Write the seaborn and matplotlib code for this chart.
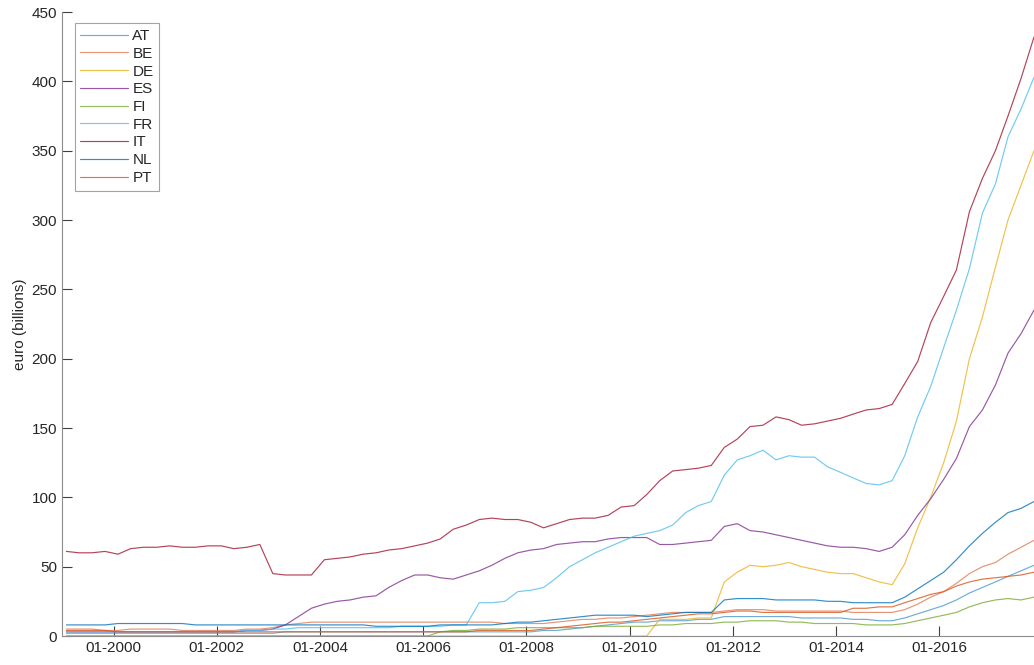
import matplotlib
matplotlib.use("Agg")
import matplotlib.pyplot as plt
import matplotlib.dates as mdates
import seaborn as sns
import pandas as pd

# quarterly readings (Feb, May, Aug, Nov) from 1999 to 2017, euro billions
dates = pd.date_range("1999-02-01", "2017-11-01", freq="3MS")

countries = ["AT", "BE", "DE", "ES", "FI", "FR", "IT", "NL", "PT"]

AT = [2, 2, 2, 2, 2, 2, 2, 2, 2, 2, 2, 2, 2, 2, 2, 2,
      2, 3, 3, 3, 3, 3, 3, 3, 3, 3, 3, 3, 3, 3, 3, 3,
      3, 3, 3, 3, 3, 4, 4, 5, 6, 7, 8, 9, 10, 10, 11, 11,
      11, 12, 12, 14, 14, 14, 14, 14, 14, 13, 13, 13, 13, 12, 12, 11,
      11, 13, 16, 19, 22, 26, 31, 35, 39, 43, 47, 51]
BE = [5, 5, 5, 4, 4, 5, 5, 5, 5, 4, 4, 4, 4, 4, 5, 5,
      6, 8, 9, 10, 10, 10, 10, 10, 10, 10, 10, 10, 10, 10, 10, 10,
      10, 10, 9, 9, 9, 9, 10, 11, 12, 12, 13, 13, 14, 15, 16, 17,
      17, 17, 17, 18, 19, 19, 19, 18, 18, 18, 18, 18, 18, 17, 17, 17,
      17, 19, 23, 28, 32, 38, 45, 50, 53, 59, 64, 69]
DE = [0, 0, 0, 0, 0, 0, 0, 0, 0, 0, 0, 0, 0, 0, 0, 0,
      0, 0, 0, 0, 0, 0, 0, 0, 0, 0, 0, 0, 0, 0, 0, 0,
      0, 0, 0, 0, 0, 0, 0, 0, 0, 0, 0, 0, 0, 0, 12, 12,
      12, 13, 13, 39, 46, 51, 50, 51, 53, 50, 48, 46, 45, 45, 42, 39,
      37, 52, 78, 100, 125, 155, 200, 230, 266, 300, 325, 350]
ES = [3, 3, 3, 3, 3, 3, 3, 3, 3, 3, 3, 3, 3, 3, 4, 4,
      5, 8, 14, 20, 23, 25, 26, 28, 29, 35, 40, 44, 44, 42, 41, 44,
      47, 51, 56, 60, 62, 63, 66, 67, 68, 68, 70, 71, 71, 71, 66, 66,
      67, 68, 69, 79, 81, 76, 75, 73, 71, 69, 67, 65, 64, 64, 63, 61,
      64, 73, 87, 99, 113, 128, 151, 163, 181, 204, 218, 235]
FI = [0, 0, 0, 0, 0, 0, 0, 0, 0, 0, 0, 0, 0, 0, 0, 0,
      0, 0, 0, 0, 0, 0, 0, 0, 0, 0, 0, 0, 0, 3, 4, 4,
      5, 5, 5, 6, 6, 6, 6, 6, 6, 7, 7, 7, 7, 7, 8, 8,
      9, 9, 9, 10, 10, 11, 11, 11, 10, 10, 9, 9, 9, 9, 8, 8,
      8, 9, 11, 13, 15, 17, 21, 24, 26, 27, 26, 28]
FR = [3, 3, 3, 3, 3, 3, 3, 3, 3, 3, 3, 3, 3, 3, 4, 4,
      5, 5, 6, 6, 6, 6, 6, 6, 6, 6, 7, 7, 7, 7, 8, 8,
      24, 24, 25, 32, 33, 35, 42, 50, 55, 60, 64, 68, 72, 74, 76, 80,
      89, 94, 97, 116, 127, 130, 134, 127, 130, 129, 129, 122, 118, 114, 110, 109,
      112, 130, 158, 180, 208, 235, 265, 305, 326, 360, 380, 403]
IT = [61, 60, 60, 61, 59, 63, 64, 64, 65, 64, 64, 65, 65, 63, 64, 66,
      45, 44, 44, 44, 55, 56, 57, 59, 60, 62, 63, 65, 67, 70, 77, 80,
      84, 85, 84, 84, 82, 78, 81, 84, 85, 85, 87, 93, 94, 102, 112, 119,
      120, 121, 123, 136, 142, 151, 152, 158, 156, 152, 153, 155, 157, 160, 163, 164,
      167, 182, 198, 226, 245, 264, 306, 330, 350, 375, 402, 432]
NL = [8, 8, 8, 8, 9, 9, 9, 9, 9, 9, 8, 8, 8, 8, 8, 8,
      8, 8, 8, 8, 8, 8, 8, 8, 7, 7, 7, 7, 7, 8, 8, 8,
      8, 8, 9, 10, 10, 11, 12, 13, 14, 15, 15, 15, 15, 14, 15, 16,
      17, 17, 17, 26, 27, 27, 27, 26, 26, 26, 26, 25, 25, 24, 24, 24,
      24, 28, 34, 40, 46, 55, 65, 74, 82, 89, 92, 97]
PT = [4, 4, 4, 4, 3, 3, 3, 3, 3, 3, 3, 3, 3, 3, 3, 3,
      3, 3, 3, 3, 3, 3, 3, 3, 3, 3, 3, 3, 3, 3, 3, 3,
      4, 4, 4, 4, 4, 5, 6, 7, 8, 9, 10, 10, 11, 12, 13, 14,
      15, 16, 16, 17, 18, 18, 17, 17, 17, 17, 17, 17, 17, 20, 20, 21,
      21, 24, 27, 30, 32, 36, 39, 41, 42, 43, 44, 46]

series = [AT, BE, DE, ES, FI, FR, IT, NL, PT]
colors = ["#4d97cc", "#e07a52", "#edb120", "#7e2f8e", "#77ac30",
          "#4dbeee", "#a2142f", "#0072bd", "#d95319"]

df = pd.concat(
    [pd.DataFrame({"date": dates, "value": v, "country": c}) for c, v in zip(countries, series)],
    ignore_index=True)

sns.set_style("ticks")
plt.rcParams["font.family"] = ["Liberation Sans", "DejaVu Sans"]

fig = plt.figure(figsize=(10.34, 6.65), dpi=100)
ax = fig.add_axes([62 / 1034, 29 / 665, 972 / 1034, 624 / 665])

sns.lineplot(data=df, x="date", y="value", hue="country", hue_order=countries,
             palette=dict(zip(countries, colors)), linewidth=0.85, alpha=0.8, ax=ax)

ax.set_xlim(pd.Timestamp("1999-01-01"), pd.Timestamp("2017-11-01"))
ax.set_ylim(0, 450)
ax.set_yticks(range(0, 451, 50))
ax.set_xticks(pd.date_range("2000-01-01", "2016-01-01", freq="24MS"))
ax.xaxis.set_major_formatter(mdates.DateFormatter("%m-%Y"))
ax.set_xlabel("")
ax.set_ylabel("euro (billions)", fontsize=11, color="#262626", labelpad=3)

for side in ["top", "right"]:
    ax.spines[side].set_visible(False)
for side in ["left", "bottom"]:
    ax.spines[side].set_color("#8c8c8c")
    ax.spines[side].set_linewidth(0.8)
ax.tick_params(direction="in", length=7, width=0.8, color="#404040",
               labelsize=11, labelcolor="#262626")

leg = ax.legend(loc="upper left", bbox_to_anchor=(0.013, 0.982), fontsize=11,
                frameon=True, fancybox=False, edgecolor="#8c8c8c",
                handlelength=3.1, handletextpad=0.3, labelspacing=0.245,
                borderpad=0.38, borderaxespad=0)
leg.get_frame().set_linewidth(0.8)
for line in leg.get_lines():
    line.set_alpha(0.8)

fig.savefig("out.png", dpi=100)
